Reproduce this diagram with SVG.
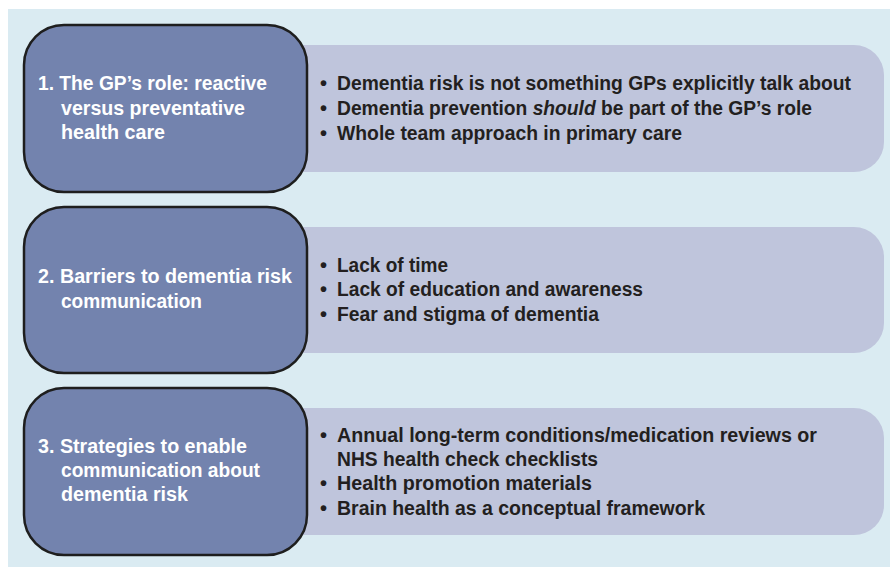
<svg xmlns="http://www.w3.org/2000/svg" width="890" height="567" viewBox="0 0 890 567">
<style>
.bg{fill:#DAEBF2}
.lt{fill:#BFC5DC}
.dk{fill:#7383AE;stroke:#1E1E1E;stroke-width:2.5}
.h{font-family:"Liberation Sans",Arial,sans-serif;font-weight:bold;font-size:20px;fill:#FFFFFF}
.b{font-family:"Liberation Sans",Arial,sans-serif;font-weight:bold;font-size:19.5px;fill:#231F20}
.u{font-family:"Liberation Sans",Arial,sans-serif;font-weight:bold;font-size:20px;fill:#231F20}
</style>
<rect x="0" y="0" width="890" height="567" fill="#FFFFFF"/>
<rect class="bg" x="8" y="9" width="882" height="558"/>
<g id="row1">
  <rect class="lt" x="270" y="45" width="614" height="127" rx="30"/>
  <rect class="dk" x="24" y="25" width="283" height="167" rx="40"/>
  <text class="h" x="38" y="90" textLength="229" lengthAdjust="spacingAndGlyphs">1. The GP’s role: reactive</text>
  <text class="h" x="61" y="115" textLength="184" lengthAdjust="spacingAndGlyphs">versus preventative</text>
  <text class="h" x="61" y="139" textLength="104" lengthAdjust="spacingAndGlyphs">health care</text>
  <text class="u" x="320" y="90">•</text>
  <text class="b" x="337" y="90" textLength="514" lengthAdjust="spacingAndGlyphs">Dementia risk is not something GPs explicitly talk about</text>
  <text class="u" x="320" y="115">•</text>
  <text class="b" x="337" y="115" textLength="475" lengthAdjust="spacingAndGlyphs">Dementia prevention <tspan font-style="italic">should</tspan> be part of the GP’s role</text>
  <text class="u" x="320" y="140">•</text>
  <text class="b" x="337" y="140" textLength="345" lengthAdjust="spacingAndGlyphs">Whole team approach in primary care</text>
</g>
<g id="row2">
  <rect class="lt" x="270" y="227" width="614" height="126" rx="30"/>
  <rect class="dk" x="24" y="207" width="283" height="166" rx="40"/>
  <text class="h" x="38" y="283" textLength="254" lengthAdjust="spacingAndGlyphs">2. Barriers to dementia risk</text>
  <text class="h" x="61" y="308" textLength="141" lengthAdjust="spacingAndGlyphs">communication</text>
  <text class="u" x="320" y="272">•</text>
  <text class="b" x="337" y="272" textLength="111" lengthAdjust="spacingAndGlyphs">Lack of time</text>
  <text class="u" x="320" y="296">•</text>
  <text class="b" x="337" y="296" textLength="306" lengthAdjust="spacingAndGlyphs">Lack of education and awareness</text>
  <text class="u" x="320" y="321">•</text>
  <text class="b" x="337" y="321" textLength="262" lengthAdjust="spacingAndGlyphs">Fear and stigma of dementia</text>
</g>
<g id="row3">
  <rect class="lt" x="270" y="408" width="614" height="127" rx="30"/>
  <rect class="dk" x="24" y="388" width="283" height="167" rx="40"/>
  <text class="h" x="38" y="453" textLength="209" lengthAdjust="spacingAndGlyphs">3. Strategies to enable</text>
  <text class="h" x="61" y="477" textLength="199" lengthAdjust="spacingAndGlyphs">communication about</text>
  <text class="h" x="61" y="501" textLength="127" lengthAdjust="spacingAndGlyphs">dementia risk</text>
  <text class="u" x="320" y="442">•</text>
  <text class="b" x="337" y="442" textLength="480" lengthAdjust="spacingAndGlyphs">Annual long-term conditions/medication reviews or</text>
  <text class="b" x="337" y="466" textLength="261" lengthAdjust="spacingAndGlyphs">NHS health check checklists</text>
  <text class="u" x="320" y="490">•</text>
  <text class="b" x="337" y="490" textLength="255" lengthAdjust="spacingAndGlyphs">Health promotion materials</text>
  <text class="u" x="320" y="515">•</text>
  <text class="b" x="337" y="515" textLength="368" lengthAdjust="spacingAndGlyphs">Brain health as a conceptual framework</text>
</g>
<g id="connectors"></g>
</svg>
